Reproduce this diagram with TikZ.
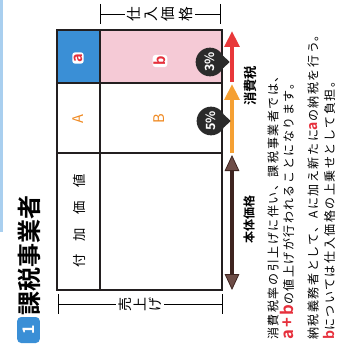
\documentclass[tikz,border=0pt]{standalone}
\usepackage{fontspec}
\setmainfont{Noto Sans CJK JP}[BoldFont={Noto Sans CJK JP Bold}]
\newfontfamily\bodyjp{Noto Sans CJK JP}[BoldFont={Noto Sans CJK JP Bold},LetterSpace=13]
\usetikzlibrary{shapes,arrows.meta,positioning,calc}
\definecolor{edgeblue}{HTML}{A9CFEF}
\definecolor{cellblue}{HTML}{3A8FD6}
\definecolor{cellpink}{HTML}{F5CAD6}
\definecolor{txtred}{HTML}{E6303C}
\definecolor{txtorange}{HTML}{EF8A23}
\definecolor{arrred}{HTML}{E8383A}
\definecolor{arrorange}{HTML}{F5A033}
\definecolor{arrbrown}{HTML}{3E2420}
\definecolor{headbrown}{HTML}{6E4D47}
\definecolor{badge}{HTML}{2B2B2B}
\definecolor{ink}{HTML}{231F20}
\newcommand\rotch[1]{\rotatebox{90}{#1}}

\begin{document}
\begin{tikzpicture}[x=0.75pt,y=0.75pt,yscale=-1,xscale=1,
  vtext/.style={rotate=90,inner sep=0.75pt},
  rule/.style={line width=1.1pt,draw=ink},
  dimlbl/.style={inner sep=2pt},
  pct/.style={circle,fill=badge,text=white,minimum size=21.5pt,inner sep=0pt,font=\fontsize{9.5}{9.5}\selectfont\bfseries},
  taxarr/.style={line width=3pt,-{Triangle[width=11pt,length=12pt]}},
  bodyarr/.style={line width=3pt,draw=arrbrown,{Triangle[width=11pt,length=12pt,fill=headbrown,line width=0.6pt]}-{Triangle[width=11pt,length=12pt,fill=headbrown,line width=0.6pt]}}]
\useasboundingbox (0,0) rectangle (343,349);

%Shape: Rectangle [page edge]
\fill[edgeblue] (0,0) rectangle (2.5,232);

% Text Node
\draw (28.5,330) node (num) [fill=cellblue,rounded corners=3pt,minimum width=17pt,minimum height=19.5pt,inner sep=0pt,text=white,font=\fontsize{12}{12}\selectfont\bfseries] {\rotch{1}};
% Text Node
\draw (29,255) node (title) [vtext,font=\fontsize{18}{18}\selectfont\bfseries] {課税事業者};

%Shape: Rectangle [cells]
\fill[cellblue] (57,30) rectangle (100,83);
\fill[cellpink] (100,30) rectangle (222,83);
\draw[rule] (57,30) rectangle (222,290);
%Straight Lines
\draw[rule] (100,30) -- (100,290);
\draw[rule] (57,83) -- (222,83);
\draw[rule] (57,153) -- (222,153);

% Text Node
\draw (78,58) node (a) [vtext,fill=white,rounded corners=2pt,inner sep=1pt,text=txtred,font=\fontsize{11}{11}\selectfont\bfseries] {a};
% Text Node
\draw (160,61) node (b) [vtext,fill=white,rounded corners=2pt,inner sep=1pt,text=txtred,font=\fontsize{11}{11}\selectfont\bfseries] {b};
% Text Node
\draw (78,119) node (A) [vtext,text=txtorange,font=\fontsize{11}{11}\selectfont] {A};
% Text Node
\draw (159,119) node (B) [vtext,text=txtorange,font=\fontsize{11}{11}\selectfont] {B};
% Text Node
\draw (79,221) node (added) [vtext,font=\fontsize{10}{10}\selectfont] {付\quad 加\quad 価\quad 値};

%Straight Lines [purchase]
\coordinate (buyL) at (100,14);
\coordinate (buyR) at (220,14);
\draw (160,14) node (buy) [dimlbl,font=\fontsize{11}{11}\selectfont] {\rotch{仕}\hspace{3pt}\rotch{入}\hspace{3pt}\rotch{価}\hspace{3pt}\rotch{格}};
\draw[line width=0.6pt] (buyL) -- (buy) -- (buyR);
\draw[line width=0.6pt] (buyL) ++(0,-10) -- ++(0,20);
\draw[line width=0.6pt] (buyR) ++(0,-10) -- ++(0,20);

%Straight Lines [sales]
\coordinate (saleL) at (58,304);
\coordinate (saleR) at (222,304);
\draw (140,304) node (sale) [dimlbl,font=\fontsize{10.5}{10.5}\selectfont] {\rotch{売}\hspace{2pt}\rotch{上}\hspace{2pt}\rotch{げ}};
\draw[line width=0.6pt] (saleL) -- (sale) -- (saleR);
\draw[line width=0.6pt] (saleL) ++(0,-10) -- ++(0,20);
\draw[line width=0.6pt] (saleR) ++(0,-10) -- ++(0,20);

%Straight Lines [arrows]
\coordinate (redlo) at (232,82);
\coordinate (redhi) at (232,31);
\coordinate (orglo) at (232,153);
\coordinate (orghi) at (232,84);
\coordinate (bodyhi) at (232,155);
\coordinate (bodylo) at (232,290);
\draw[taxarr,arrred] (redlo) -- (redhi);
\draw[taxarr,arrorange] (orglo) -- (orghi);
\draw[bodyarr] (bodyhi) -- (bodylo);

% Text Node
\draw (210,62) node (p3) [pct] {\rotch{3\%}};
\fill[badge] (p3.25) -- ($(p3.east)+(5,0)$) -- (p3.-25) -- cycle;
% Text Node
\draw (211,121) node (p5) [pct] {\rotch{5\%}};
\fill[badge] (p5.25) -- ($(p5.east)+(5,0)$) -- (p5.-25) -- cycle;

% Text Node
\draw (250,86) node (tax) [vtext,font=\fontsize{10}{10}\selectfont\bfseries] {消費税};
% Text Node
\draw (249,219) node (price) [vtext,font=\fontsize{9}{9}\selectfont\bfseries] {本体価格};

% Text Node
\draw (273,341) node (line1) [vtext,anchor=west,font=\bodyjp\fontsize{9}{9}\selectfont] {消費税率の引上げに伴い、課税事業者では、};
% Text Node
\draw (287,341) node (line2) [vtext,anchor=west,font=\bodyjp\fontsize{9}{9}\selectfont] {{\bfseries\fontsize{12.5}{12.5}\selectfont\color{txtred}a+b}の値上げが行われることになります。};
% Text Node
\draw (313,341) node (line3) [vtext,anchor=west,font=\bodyjp\fontsize{9}{9}\selectfont] {納税義務者として、Aに加え新たに{\bfseries\fontsize{10.5}{10.5}\selectfont\color{txtred}a}の納税を行う。};
% Text Node
\draw (329,341) node (line4) [vtext,anchor=west,font=\bodyjp\fontsize{9}{9}\selectfont] {{\bfseries\fontsize{10.5}{10.5}\selectfont\color{txtred}b}については仕入価格の上乗せとして負担。};

\end{tikzpicture}
\end{document}
